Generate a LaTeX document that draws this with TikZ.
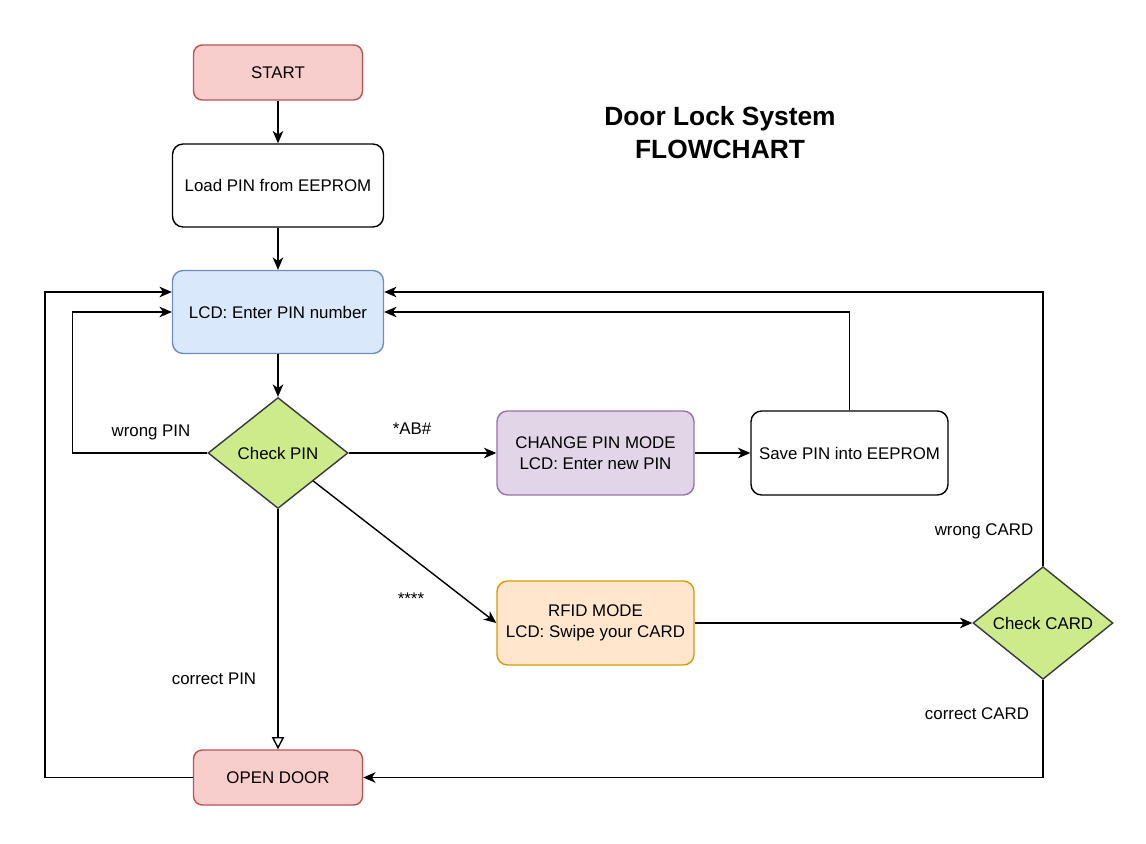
\documentclass[tikz,border=0pt]{standalone}
\usepackage{fontspec}
\setmainfont{Liberation Sans}
\usetikzlibrary{arrows.meta,calc,shapes.geometric}
\definecolor{redfill}{HTML}{F8CECC}
\definecolor{redline}{HTML}{B85450}
\definecolor{bluefill}{HTML}{DAE8FC}
\definecolor{blueline}{HTML}{6C8EBF}
\definecolor{violetfill}{HTML}{E1D5E7}
\definecolor{violetline}{HTML}{9673A6}
\definecolor{orangefill}{HTML}{FFE6CC}
\definecolor{orangeline}{HTML}{D79B00}
\definecolor{greenfill}{HTML}{CDEB8B}
\definecolor{greenline}{HTML}{36393D}

\begin{document}
\begin{tikzpicture}[x=0.02cm,y=-0.02cm,
    font=\fontsize{9.6}{11.8}\selectfont,
    box/.style={draw,line width=0.8pt,rounded corners=6pt,align=center,
      minimum width=4.22cm,minimum height=1.66cm},
    endbox/.style={box,draw=redline,fill=redfill,rounded corners=5pt,
      minimum width=3.38cm,minimum height=1.1cm},
    modebox/.style={box,minimum width=3.94cm,minimum height=1.68cm},
    test/.style={diamond,draw=greenline,fill=greenfill,line width=0.8pt,
      inner sep=0pt,minimum width=2.8cm,minimum height=2.22cm},
    flow/.style={draw,line width=0.8pt,-{Stealth[length=7pt,width=6pt,inset=2pt]}},
    lbl/.style={inner sep=1pt}]
  \useasboundingbox (0,0) rectangle (1146,844);

  % main column
  \node[endbox] (start) at (278,72.5) {START};
  \node[box] (load) at (278,185.5) {Load PIN from EEPROM};
  \node[box,draw=blueline,fill=bluefill] (lcd) at (278,312) {LCD: Enter PIN number};
  \node[test] (chkpin) at (278,453) {Check PIN};
  \node[endbox] (open) at (278,777.5) {OPEN DOOR};

  % change pin branch
  \node[modebox,draw=violetline,fill=violetfill] (chgmode) at (595.5,453)
    {CHANGE PIN MODE\\LCD: Enter new PIN};
  \node[modebox] (save) at (849.5,453) {Save PIN into EEPROM};

  % rfid branch
  \node[modebox,draw=orangeline,fill=orangefill] (rfid) at (595.5,623)
    {RFID MODE\\LCD: Swipe your CARD};
  \node[test] (chkcard) at (1043,623) {Check CARD};

  \node[font=\fontsize{15}{18.8}\selectfont\bfseries,align=center] (title) at (720,133)
    {Door Lock System\\FLOWCHART};

  % connectors
  \draw[flow] (start) -- (load);
  \draw[flow] (load) -- (lcd);
  \draw[flow] (lcd) -- (chkpin);
  \draw[flow] (chkpin.west) -- ++(-135,0) |- (lcd.west);
  \draw[flow] (chkpin.east) -- (chgmode.west);
  \draw[flow] (chgmode) -- (save);
  \draw[flow] (save.north) |- (lcd.east);
  \coordinate (pinse) at ($(chkpin.east)!0.5!(chkpin.south)$);
  \draw[flow] (pinse) -- (rfid.west);
  \draw[flow] (rfid) -- (chkcard);
  \draw[flow] (chkcard.north) |- ([yshift=0.4cm]lcd.east);
  \draw[flow] (chkcard.south) |- (open.east);
  \draw[line width=0.8pt,-{Triangle[open,length=7pt,width=7pt]}]
    (chkpin.south) -- (open.north);
  \draw[flow] (open.west) -- ++(-148,0) |- ([yshift=0.4cm]lcd.west);

  % labels
  \node[lbl] (wrongpin) at (151,432) {wrong PIN};
  \node[lbl] (abkey) at (412,429) {*AB\#};
  \node[lbl] (starkey) at (411,599) {****};
  \node[lbl] (rightpin) at (214,679) {correct PIN};
  \node[lbl] (wrongcard) at (984,531) {wrong CARD};
  \node[lbl] (rightcard) at (977,714) {correct CARD};
\end{tikzpicture}
\end{document}
